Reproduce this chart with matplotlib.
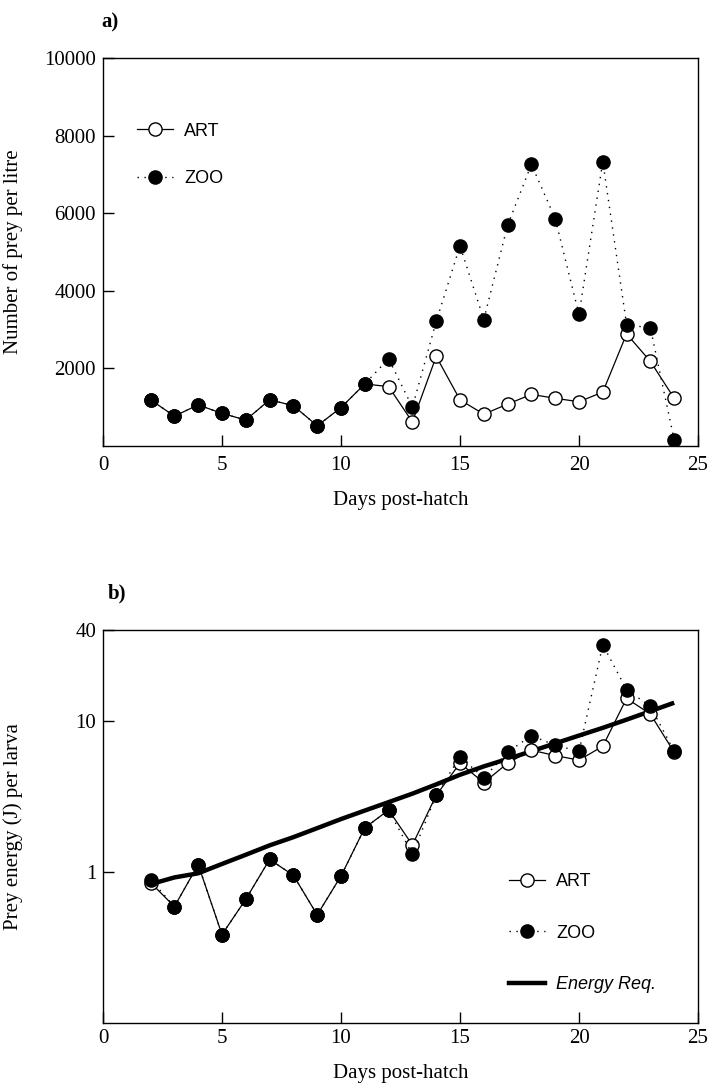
import matplotlib
matplotlib.use("Agg")
import matplotlib.pyplot as plt
from matplotlib.lines import Line2D

# ---- data -------------------------------------------------------------
days = [2, 3, 4, 5, 6, 7, 8, 9, 10, 11, 12, 13, 14, 15, 16, 17, 18, 19, 20, 21, 22, 23, 24]

# a) prey density (number per litre)
art_density = [1190, 770, 1060, 840, 670, 1190, 1040, 520, 990, 1600,
               1530, 620, 2310, 1190, 820, 1080, 1330, 1230, 1140, 1390,
               2890, 2180, 1230]
zoo_density = [1190, 770, 1060, 840, 670, 1190, 1040, 520, 990, 1600,
               2250, 1000, 3210, 5160, 3260, 5690, 7260, 5860, 3390, 7330,
               3130, 3040, 160]

# b) prey energy per larva (J)
art_energy = [0.85, 0.59, 1.12, 0.385, 0.66, 1.21, 0.95, 0.52, 0.94, 1.96,
              2.57, 1.51, 3.22, 5.25, 3.9, 5.25, 6.4, 5.9, 5.5, 6.8,
              14.1, 11.1, 6.2]
zoo_energy = [0.89, 0.59, 1.12, 0.385, 0.66, 1.21, 0.95, 0.52, 0.94, 1.96,
              2.57, 1.31, 3.22, 5.8, 4.2, 6.2, 8.0, 6.9, 6.3, 31.9,
              16.1, 12.5, 6.3]
energy_req = [0.83, 0.92, 0.98, 1.13, 1.3, 1.5, 1.7, 1.95, 2.24, 2.55,
              2.9, 3.3, 3.8, 4.4, 5.0, 5.6, 6.3, 7.1, 8.0, 9.0,
              10.2, 11.6, 13.2]

x_ticks = [0, 5, 10, 15, 20, 25]
a_yticks = [2000, 4000, 6000, 8000, 10000]
b_yticks = [1, 10, 40]

# ---- style ------------------------------------------------------------
SERIF = "Liberation Serif"
SANS = "Liberation Sans"
plt.rcParams["font.family"] = SERIF

W, H = 709, 1090
fig = plt.figure(figsize=(W / 100, H / 100), dpi=100)

def frac_axes(left, top, right, bottom):
    return fig.add_axes([left / W, 1 - bottom / H, (right - left) / W, (bottom - top) / H])

art_kw = dict(color="black", lw=0.9, marker="o", ms=9.5, mfc="white",
              mec="black", mew=1.0, zorder=3)
zoo_kw = dict(color="black", lw=1.0, ls=(0, (1, 4)), marker="o", ms=9.5,
              mfc="black", mec="black", zorder=4)

def style_axes(ax, pad):
    for s in ax.spines.values():
        s.set_linewidth(1.0)
    ax.tick_params(direction="in", length=8, width=1.0, labelsize=15,
                   top=False, right=False)
    ax.tick_params(axis="x", pad=pad)
    ax.tick_params(axis="y", pad=5)
    ax.set_xlim(0, 25)
    ax.set_xticks(x_ticks)
    ax.set_xticklabels([str(t) for t in x_ticks])
    ax.minorticks_off()

def legend_handles(with_req=False):
    h = [Line2D([], [], **{k: v for k, v in art_kw.items() if k != "zorder"}),
         Line2D([], [], **{k: v for k, v in zoo_kw.items() if k != "zorder"})]
    if with_req:
        h.append(Line2D([], [], color="black", lw=3.2))
    return h

# ---- panel a ----------------------------------------------------------
axa = frac_axes(103, 58, 698, 446)
axa.plot(days, art_density, **art_kw)
axa.plot(days, zoo_density, **zoo_kw)
axa.set_ylim(0, 10000)
axa.set_yticks(a_yticks)
axa.set_yticklabels([str(t) for t in a_yticks])
style_axes(axa, pad=7)
axa.set_xlabel("Days post-hatch", fontsize=15, labelpad=12)
axa.set_ylabel("Number of prey per litre", fontsize=15)
axa.yaxis.set_label_coords(-0.135, 0.5)

axa.legend(legend_handles(), ["ART", "ZOO"], loc="upper left",
           bbox_to_anchor=(0.03, 0.875), frameon=False, handlelength=2.0,
           handletextpad=0.6, labelspacing=1.7, prop={"family": SANS, "size": 13})

fig.text(110 / W, 1 - 22 / H, "a)", fontsize=15, fontweight="bold",
         ha="center", va="center")

# ---- panel b ----------------------------------------------------------
axb = frac_axes(103, 630, 698, 1023)
axb.plot(days, energy_req, color="black", lw=3.2, solid_capstyle="butt", zorder=2)
axb.plot(days, art_energy, **art_kw)
axb.plot(days, zoo_energy, **zoo_kw)
axb.set_yscale("log")
axb.set_ylim(0.1, 40)
axb.set_yticks(b_yticks)
axb.set_yticklabels([str(t) for t in b_yticks])
style_axes(axb, pad=4)
axb.set_xlabel("Days post-hatch", fontsize=15, labelpad=12)
axb.set_ylabel("Prey energy (J) per larva", fontsize=15)
axb.yaxis.set_label_coords(-0.135, 0.5)

legb = axb.legend(legend_handles(True), ["ART", "ZOO", "Energy Req."],
                  loc="lower left", bbox_to_anchor=(0.655, 0.035), frameon=False,
                  handlelength=2.0, handletextpad=0.6, labelspacing=1.9,
                  prop={"family": SANS, "size": 13})
legb.get_texts()[2].set_fontstyle("italic")

fig.text(117 / W, 1 - 593 / H, "b)", fontsize=15, fontweight="bold",
         ha="center", va="center")

fig.savefig("out.png", dpi=100)
